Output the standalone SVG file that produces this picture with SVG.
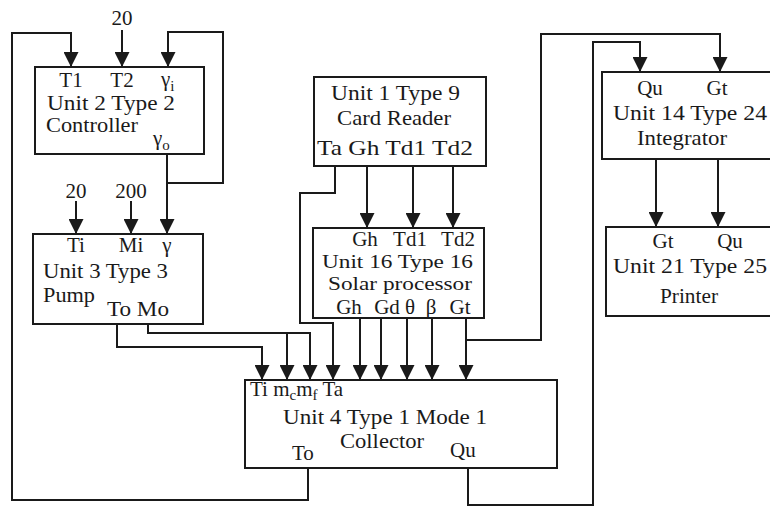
<svg xmlns="http://www.w3.org/2000/svg" width="770" height="508" viewBox="0 0 770 508">
<defs>
<marker id="arr" viewBox="0 0 16 16" refX="16" refY="8" markerWidth="17" markerHeight="15" markerUnits="userSpaceOnUse" orient="auto">
<path d="M0,0 L16,8 L0,16 z" fill="#1a1a1a"/>
</marker>
</defs>
<style>
.box{fill:#fff;stroke:#1a1a1a;stroke-width:2}
.ln{fill:none;stroke:#1a1a1a;stroke-width:2}
.a{marker-end:url(#arr)}
text{font-family:"Liberation Serif","Times New Roman",serif;font-size:21px;fill:#1a1a1a}
.c{text-anchor:middle}
.s{font-size:15px}
.m{font-size:19px}
</style>
<rect width="770" height="508" fill="#fff"/>
<g id="connectors">
<path class="ln a" d="M308,468 V500 H12 V33 H71 V67"/>
<path class="ln a" d="M122,30 V67"/>
<path class="ln a" d="M167,154 V234"/>
<path class="ln a" d="M167,183 H223 V32 H168 V67"/>
<path class="ln a" d="M76,201 V234"/>
<path class="ln a" d="M131,201 V234"/>
<path class="ln a" d="M117,324 V347 H262 V380"/>
<path class="ln a" d="M148,324 V333 H310 V380"/>
<path class="ln a" d="M287,333 V380"/>
<path class="ln a" d="M335,166 V193 H300 V323 H333 V380"/>
<path class="ln a" d="M367,166 V228"/>
<path class="ln a" d="M413,166 V228"/>
<path class="ln a" d="M453,166 V228"/>
<path class="ln a" d="M360,318 V380"/>
<path class="ln a" d="M381,318 V380"/>
<path class="ln a" d="M407,318 V380"/>
<path class="ln a" d="M432,318 V380"/>
<path class="ln a" d="M466,318 V380"/>
<path class="ln a" d="M466,340 H541 V34 H720 V72"/>
<path class="ln a" d="M468,468 V505 H593 V42 H640 V72"/>
<path class="ln a" d="M656,159 V227"/>
<path class="ln a" d="M718,159 V227"/>
</g>
<g id="const-labels">
<text x="122" y="25" class="c">20</text>
<text x="76" y="198" class="c">20</text>
<text x="131" y="198" class="c">200</text>
</g>
<g id="controller">
<rect class="box" x="35" y="67" width="169" height="87"/>
<text x="71" y="87" class="c">T1</text>
<text x="122" y="87" class="c">T2</text>
<text x="161" y="86">γ<tspan class="s" dy="5">i</tspan></text>
<text x="47" y="110" textLength="128" lengthAdjust="spacingAndGlyphs">Unit 2 Type 2</text>
<text x="46" y="132" textLength="92" lengthAdjust="spacingAndGlyphs">Controller</text>
<text x="153" y="145">γ<tspan class="s" dy="5">o</tspan></text>
</g>
<g id="pump">
<rect class="box" x="33" y="234" width="170" height="90"/>
<text x="76" y="252" class="c">Ti</text>
<text x="131" y="252" class="c">Mi</text>
<text x="167" y="252" class="c">γ</text>
<text x="43" y="278" textLength="125" lengthAdjust="spacingAndGlyphs">Unit 3 Type 3</text>
<text x="43" y="302" textLength="52" lengthAdjust="spacingAndGlyphs">Pump</text>
<text x="107" y="316" textLength="62" lengthAdjust="spacingAndGlyphs">To Mo</text>
</g>
<g id="card-reader">
<rect class="box" x="314" y="77" width="172" height="89"/>
<text x="331" y="100" textLength="129" lengthAdjust="spacingAndGlyphs">Unit 1 Type 9</text>
<text x="337" y="125" textLength="114" lengthAdjust="spacingAndGlyphs">Card Reader</text>
<text x="317" y="155" textLength="156" lengthAdjust="spacingAndGlyphs">Ta Gh Td1 Td2</text>
</g>
<g id="solar-processor">
<rect class="box" x="313" y="228" width="171" height="90"/>
<text x="365" y="246" class="c">Gh</text>
<text x="410" y="246" class="c">Td1</text>
<text x="458" y="246" class="c">Td2</text>
<text x="322" y="268" class="m" textLength="151" lengthAdjust="spacingAndGlyphs">Unit 16 Type 16</text>
<text x="328" y="290" class="m" textLength="144" lengthAdjust="spacingAndGlyphs">Solar processor</text>
<text x="349" y="314" class="c">Gh</text>
<text x="387" y="314" class="c">Gd</text>
<text x="410" y="314" class="c">θ</text>
<text x="431" y="314" class="c">β</text>
<text x="460" y="314" class="c">Gt</text>
</g>
<g id="collector">
<rect class="box" x="245" y="380" width="312" height="88"/>
<text x="250" y="396">Ti m<tspan class="s" dy="4">c</tspan><tspan dy="-4">m</tspan><tspan class="s" dy="4">f</tspan><tspan dy="-4"> Ta</tspan></text>
<text x="283" y="424" textLength="204" lengthAdjust="spacingAndGlyphs">Unit 4 Type 1 Mode 1</text>
<text x="340" y="448" textLength="84" lengthAdjust="spacingAndGlyphs">Collector</text>
<text x="292" y="460">To</text>
<text x="450" y="457">Qu</text>
</g>
<g id="integrator">
<rect class="box" x="602" y="72" width="180" height="87"/>
<text x="650" y="95" class="c">Qu</text>
<text x="717" y="95" class="c">Gt</text>
<text x="613" y="120" textLength="154" lengthAdjust="spacingAndGlyphs">Unit 14 Type 24</text>
<text x="637" y="145" textLength="90" lengthAdjust="spacingAndGlyphs">Integrator</text>
</g>
<g id="printer">
<rect class="box" x="606" y="227" width="180" height="89"/>
<text x="663" y="248" class="c">Gt</text>
<text x="730" y="248" class="c">Qu</text>
<text x="613" y="273" textLength="154" lengthAdjust="spacingAndGlyphs">Unit 21 Type 25</text>
<text x="660" y="303" textLength="58" lengthAdjust="spacingAndGlyphs">Printer</text>
</g>
</svg>
